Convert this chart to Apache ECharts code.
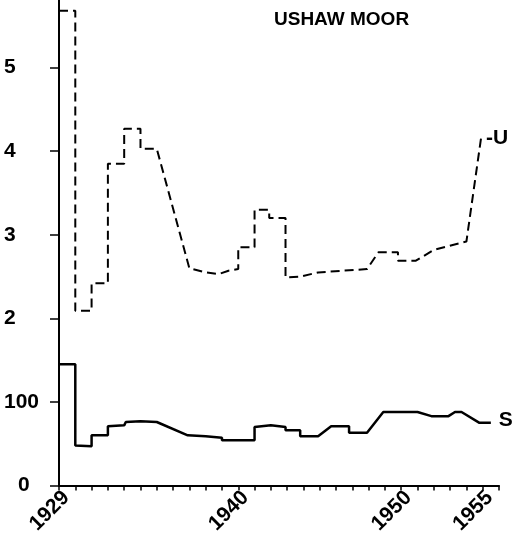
<!DOCTYPE html>
<html>
<head>
<meta charset="UTF-8">
<title>Ushaw Moor</title>
<script src="https://cdn.jsdelivr.net/npm/echarts@6/dist/echarts.min.js"></script>
<style>
  html, body { margin: 0; padding: 0; background: #fff; }
  #chart { width: 524px; height: 537px; }
</style>
</head>
<body>
<div id="chart"></div>
<script>
// x axis: one tick a year, only these are labelled
var yearLabels = [1929, 1940, 1950, 1955];
// left axis: upper part reads U, lower part reads S (one step = 100)
var yTickValues = [0, 1, 2, 3, 4, 5];
var yTickLabels = ['0', '100', '2', '3', '4', '5'];

// U, dashed (steps written as two points on the same year)
var uYears  = [1929, 1930, 1930, 1931, 1931, 1932, 1932, 1933, 1933, 1934, 1934, 1935,
               1937, 1938, 1938.8, 1939.4, 1940, 1940, 1941, 1941, 1941.9, 1941.9, 1942.9, 1942.9,
               1943.8, 1944.9, 1947.9, 1948.6, 1949.8, 1949.8, 1950.9, 1952, 1953.8, 1954, 1954.9];
var uValues = [5.68, 5.68, 2.09, 2.09, 2.42, 2.42, 3.85, 3.85, 4.27, 4.27, 4.03, 4.03,
               2.6, 2.55, 2.53, 2.57, 2.59, 2.85, 2.85, 3.30, 3.30, 3.20, 3.20, 2.49,
               2.50, 2.55, 2.59, 2.79, 2.79, 2.69, 2.69, 2.82, 2.91, 2.92, 4.16];

// S, solid
var sYears  = [1929, 1930, 1930, 1931, 1931, 1932, 1932, 1933, 1933.1, 1934, 1935,
               1936.9, 1938, 1938.1, 1939, 1939, 1941, 1941, 1942, 1942.9, 1942.9, 1943.8,
               1943.8, 1944.9, 1945.7, 1946.8, 1946.8, 1947.9, 1948.9, 1951, 1951.85, 1952.9,
               1953.3, 1953.7, 1954.8, 1955.5];
var sValues = [145, 145, 48, 47, 60, 60, 71, 72, 76, 77, 76,
               60, 59, 57, 57, 54, 54, 70, 72, 70, 66, 66,
               59, 59, 71, 71, 63, 63, 88, 88, 83, 83,
               88, 88, 75, 75];

var font = '"Liberation Sans", Arial, sans-serif';

var uData = uYears.map(function (y, i) { return [y, uValues[i]]; });
// S is drawn on the same scale, 100 to one step
var sData = sYears.map(function (y, i) { return [y, sValues[i] / 100]; });

var chart = echarts.init(document.getElementById('chart'));
chart.setOption({
    animation: false,
    backgroundColor: '#fff',
    title: {
        text: 'USHAW MOOR',
        left: 274,
        top: 10,
        padding: 0,
        textStyle: { fontFamily: font, fontWeight: 'bold', fontSize: 19, color: '#000' }
    },
    grid: { left: 59, right: 25, top: 0, bottom: 50 },
    xAxis: {
        type: 'value',
        min: 1929,
        max: 1956,
        interval: 1,
        splitLine: { show: false },
        axisLine: { lineStyle: { color: '#000', width: 2 } },
        axisTick: { inside: false, length: 5, lineStyle: { color: '#000', width: 1.5 } },
        axisLabel: {
            customValues: yearLabels,
            formatter: function (v) { return String(v); },
            rotate: 45,
            margin: 16,
            padding: [0, -10, 0, 0],
            fontFamily: font,
            fontWeight: 'bold',
            fontSize: 21,
            color: '#000'
        }
    },
    yAxis: {
        type: 'value',
        min: 0,
        max: 5.81,
        splitLine: { show: false },
        axisLine: { show: true, lineStyle: { color: '#000', width: 2 } },
        axisTick: { show: true, customValues: yTickValues, length: 9, lineStyle: { color: '#000', width: 1.5 } },
        axisLabel: {
            customValues: yTickValues,
            formatter: function (v) {
                var t = yTickLabels[yTickValues.indexOf(v)];
                return v === 0 ? '{z|' + t + '}' : t;
            },
            align: 'left',
            margin: 55,
            fontFamily: font,
            fontWeight: 'bold',
            fontSize: 21,
            color: '#000',
            rich: { z: { padding: [0, 0, 0, 14], fontFamily: font, fontWeight: 'bold', fontSize: 21, color: '#000' } }
        }
    },
    series: [
        {
            name: 'U',
            type: 'line',
            data: uData,
            symbol: 'none',
            lineStyle: { color: '#000', width: 2, type: [9, 5] },
            endLabel: {
                show: true,
                formatter: '-U',
                distance: 5,
                fontFamily: font,
                fontWeight: 'bold',
                fontSize: 21,
                color: '#000'
            }
        },
        {
            name: 'S',
            type: 'line',
            data: sData,
            symbol: 'none',
            lineStyle: { color: '#000', width: 2.5 },
            endLabel: {
                show: true,
                formatter: 'S',
                distance: 8,
                offset: [0, -3],
                fontFamily: font,
                fontWeight: 'bold',
                fontSize: 21,
                color: '#000'
            }
        }
    ]
});
</script>
</body>
</html>
